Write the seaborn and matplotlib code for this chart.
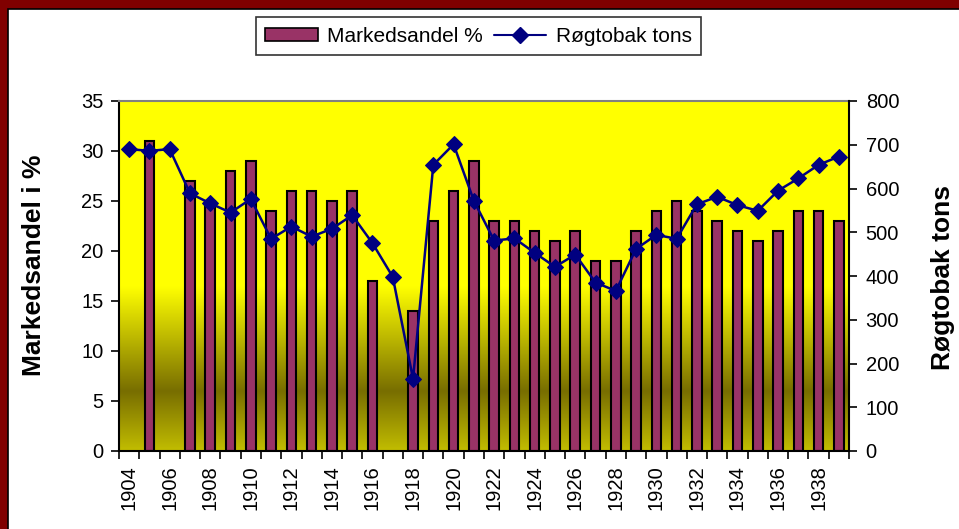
import numpy as np
import pandas as pd
import matplotlib
matplotlib.use("Agg")
import matplotlib.pyplot as plt
from matplotlib.colors import LinearSegmentedColormap
from matplotlib.patches import Rectangle, Patch
from matplotlib.lines import Line2D
import seaborn as sns

years = list(range(1904, 1940))
share = [np.nan, 31, np.nan, 27, 25, 28, 29, 24, 26, 26, 25, 26, 17, np.nan, 14, 23, 26, 29,
         23, 23, 22, 21, 22, 19, 19, 22, 24, 25, 24, 23, 22, 21, 22, 24, 24, 23]
tons = [690, 686, 690, 589, 566, 545, 576, 485, 513, 490, 508, 539, 475, 398, 165, 654, 701, 572,
        481, 486, 453, 421, 449, 385, 366, 462, 494, 485, 564, 581, 562, 549, 595, 623, 654, 673]
left_ticks = [0, 5, 10, 15, 20, 25, 30, 35]
right_ticks = [0, 100, 200, 300, 400, 500, 600, 700, 800]

sns.set_theme(style="white")
plt.rcParams['font.family'] = ['Liberation Sans', 'DejaVu Sans']
plt.rcParams['text.color'] = 'black'
plt.rcParams['xtick.color'] = 'black'
plt.rcParams['ytick.color'] = 'black'
plt.rcParams['axes.labelcolor'] = 'black'

W, H = 959, 529
fig = plt.figure(figsize=(W / 100, H / 100), dpi=100)
fig.patch.set_facecolor('#800000')
bg = Rectangle((7.5 / W, -0.01), 1.02, (H - 9.5) / H + 0.01, transform=fig.transFigure,
               facecolor='white', edgecolor='black', linewidth=1.2, zorder=-10)
fig.patches.append(bg)

ax = fig.add_axes([119 / W, (H - 451) / H, 730 / W, 350 / H])
df = pd.DataFrame({'year': [str(y) for y in years], 'share': share})
n = len(years)

# gradient background
cmap = LinearSegmentedColormap.from_list('bg', [(0.0, (0.76, 0.74, 0.0)), (0.17, (0.47, 0.43, 0.0)),
                                                (0.47, (1.0, 1.0, 0.0)), (1.0, (1.0, 1.0, 0.0))])
grad = np.linspace(0, 1, 256).reshape(-1, 1)
ax.imshow(grad, cmap=cmap, origin='lower', aspect='auto', extent=[-0.5, n - 0.5, 0, 35], zorder=0)

sns.barplot(data=df, x='year', y='share', order=[str(y) for y in years], color='#993366',
            saturation=1, width=0.47, edgecolor='black', linewidth=1.5, ax=ax, zorder=2)
ax.set_xlim(-0.5, n - 0.5)
ax.set_ylim(0, 35)
ax.set_yticks(left_ticks)
ax.set_yticklabels([str(t) for t in left_ticks], fontsize=14.5)
ax.set_xticks(range(0, n, 2))
ax.set_xticklabels([str(y) for y in years[::2]], rotation=90, fontsize=14.5)
ax.set_xticks(np.arange(-0.5, n, 1), minor=True)
ax.tick_params(axis='x', which='major', length=0, pad=10)
ax.tick_params(axis='x', which='minor', length=6, width=1.2, color='black', direction='out', bottom=True)
ax.tick_params(axis='y', length=6, width=1.2, color='black', direction='out', left=True, pad=5)
ax.set_xlabel('')
ax.set_ylabel('Markedsandel i %', fontsize=19, fontweight='bold', va='center')
ax.yaxis.set_label_coords((34 - 119) / 730, (451 - 265) / 350)
for s in ['left', 'bottom']:
    ax.spines[s].set_color('black')
    ax.spines[s].set_linewidth(1.5)
ax.spines['top'].set_color('#808080')
ax.spines['top'].set_linewidth(1.5)
ax.spines['right'].set_visible(False)

ax2 = ax.twinx()
sns.lineplot(x=np.arange(n), y=tons, ax=ax2, color='#000080', marker='D', markersize=8,
             markeredgecolor='#000080', linewidth=1.8, zorder=3)
ax2.set_ylim(0, 800)
ax2.set_yticks(right_ticks)
ax2.set_yticklabels([str(t) for t in right_ticks], fontsize=14.5)
ax2.tick_params(axis='y', length=6, width=1.2, color='black', direction='out', right=True, pad=6)
ax2.set_ylabel('Røgtobak tons', fontsize=19, fontweight='bold', va='center', rotation=90)
ax2.yaxis.set_label_coords((943 - 119) / 730, (451 - 278) / 350)
ax2.spines['right'].set_color('black')
ax2.spines['right'].set_linewidth(1.5)
for s in ['left', 'top', 'bottom']:
    ax2.spines[s].set_visible(False)
ax2.patch.set_visible(False)
ax2.grid(False)
ax.grid(False)

handles = [Patch(facecolor='#993366', edgecolor='black', linewidth=1.2),
           Line2D([0], [0], color='#000080', marker='D', markersize=8, linewidth=1.5)]
leg = fig.legend(handles, ['Markedsandel %', 'Røgtobak tons'], loc='center',
                 bbox_to_anchor=(478.5 / W, (H - 36) / H), ncol=2, frameon=True, fancybox=False,
                 fontsize=15, handlelength=2.5, handleheight=0.6, columnspacing=0.55,
                 handletextpad=0.45, borderpad=0.45, shadow=False)
leg.get_frame().set_edgecolor('black')
leg.get_frame().set_linewidth(1.2)
leg.get_frame().set_facecolor('white')

fig.savefig('out.png', dpi=100, facecolor=fig.get_facecolor())
